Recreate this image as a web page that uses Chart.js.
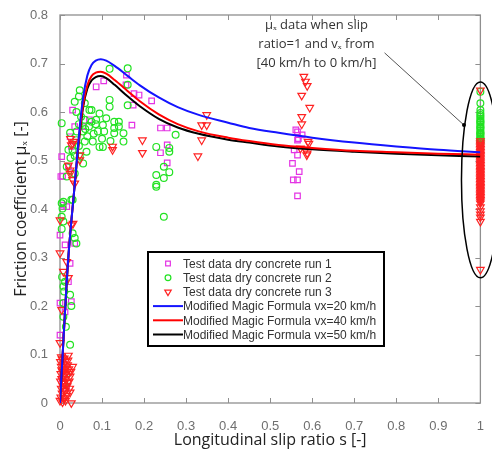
<!DOCTYPE html>
<html>
<head>
<meta charset="utf-8">
<script src="https://cdn.jsdelivr.net/npm/chart.js@4"></script>
<style>
html, body { margin: 0; padding: 0; background: #fff; }
</style>
</head>
<body>
<canvas id="chart" width="492" height="453"></canvas>
<script>
// test data, [slip ratio s, friction coefficient mu]
const run1 = [
  [0.004,0.508],[0.002,0.467],[0.024,0.549],[0.027,0.529],[0.016,0.405],[0.020,0.487],[0.035,0.570],
  [0.030,0.604],[0.055,0.570],[0.070,0.584],[0.006,0.468],[0.008,0.408],[0.000,0.346],[0.035,0.329],
  [0.012,0.326],[0.000,0.206],[0.000,0.140],[0.020,0.250],[0.012,0.188],[0.024,0.288],[0.027,0.209],
  [0.010,0.080],[0.005,0.050],[0.015,0.030],[0.086,0.652],[0.104,0.664],[0.158,0.676],[0.157,0.656],
  [0.176,0.638],[0.174,0.614],[0.171,0.573],[0.188,0.635],[0.218,0.623],[0.239,0.567],[0.255,0.567],
  [0.255,0.532],[0.239,0.516],[0.255,0.495],[0.561,0.563],[0.565,0.559],[0.576,0.553],[0.567,0.545],
  [0.565,0.542],[0.557,0.522],[0.565,0.511],[0.553,0.494],[0.569,0.477],[0.555,0.460],[0.565,0.460],
  [0.565,0.427]
];
const run2 = [
  [0.004,0.577],[0.024,0.557],[0.047,0.645],[0.045,0.632],[0.035,0.621],[0.039,0.600],[0.059,0.618],
  [0.075,0.604],[0.094,0.597],[0.118,0.625],[0.118,0.611],[0.129,0.580],[0.129,0.567],[0.129,0.556],
  [0.151,0.556],[0.151,0.539],[0.118,0.689],[0.161,0.690],[0.161,0.656],[0.161,0.614],[0.094,0.528],
  [0.102,0.528],[0.078,0.539],[0.059,0.539],[0.063,0.518],[0.055,0.560],[0.069,0.570],[0.086,0.584],
  [0.102,0.573],[0.110,0.587],[0.020,0.522],[0.016,0.487],[0.016,0.467],[0.027,0.419],[0.004,0.412],
  [0.004,0.384],[0.035,0.473],[0.055,0.494],[0.039,0.542],[0.047,0.508],[0.070,0.604],[0.059,0.584],
  [0.050,0.590],[0.065,0.550],[0.080,0.555],[0.085,0.575],[0.090,0.560],[0.100,0.545],[0.105,0.560],
  [0.040,0.560],[0.045,0.575],[0.030,0.520],[0.025,0.505],[0.035,0.510],[0.045,0.530],[0.060,0.565],
  [0.075,0.580],[0.120,0.540],[0.140,0.580],[0.140,0.570],[0.008,0.415],[0.030,0.419],[0.006,0.401],
  [0.004,0.359],[0.008,0.374],[0.035,0.340],[0.039,0.329],[0.030,0.350],[0.024,0.223],[0.027,0.200],
  [0.008,0.206],[0.008,0.178],[0.024,0.120],[0.008,0.240],[0.014,0.157],[0.010,0.230],[0.012,0.250],
  [0.005,0.260],[0.015,0.060],[0.010,0.040],[0.275,0.553],[0.229,0.528],[0.260,0.526],[0.260,0.518],
  [0.247,0.487],[0.260,0.476],[0.247,0.464],[0.229,0.470],[0.229,0.450],[0.229,0.446],[0.247,0.384]
];
const run3 = [
  [0.000,0.005],[0.002,0.012],[0.005,0.020],[0.008,0.010],[0.012,0.025],[0.003,0.030],[0.007,0.035],
  [0.010,0.040],[0.001,0.045],[0.004,0.050],[0.009,0.055],[0.014,0.050],[0.002,0.060],[0.006,0.065],
  [0.011,0.070],[0.015,0.062],[0.003,0.075],[0.008,0.080],[0.013,0.085],[0.005,0.090],[0.010,0.092],
  [0.018,0.078],[0.020,0.060],[0.022,0.045],[0.017,0.035],[0.024,0.022],[0.016,0.015],[0.013,0.005],
  [0.006,0.002],[0.019,0.088],[0.001,0.085],[0.007,0.045],[0.012,0.058],[0.004,0.068],[0.009,0.028],
  [0.015,0.072],[0.021,0.070],[0.023,0.030],[0.011,0.010],[0.003,0.095],[0.024,0.055],[0.018,0.042],
  [0.026,0.065],[0.020,0.098],[0.027,0.000],[0.030,0.075],[0.004,0.192],[0.000,0.124],[0.000,0.309],
  [0.008,0.271],[0.020,0.258],[0.016,0.291],[0.000,0.377],[0.027,0.367],[0.024,0.480],[0.035,0.453],
  [0.030,0.460],[0.047,0.511],[0.047,0.501],[0.030,0.535],[0.031,0.370],[0.024,0.473],[0.033,0.539],
  [0.027,0.532],[0.020,0.490],[0.025,0.545],[0.125,0.529],[0.125,0.522],[0.196,0.542],[0.196,0.516],
  [0.349,0.594],[0.337,0.573],[0.349,0.573],[0.337,0.542],[0.328,0.509],[0.580,0.673],[0.584,0.663],
  [0.588,0.654],[0.575,0.634],[0.594,0.609],[0.575,0.590],[0.575,0.575],[0.590,0.539],[0.584,0.522],
  [0.587,0.511],[0.572,0.525],[0.592,0.535],[0.588,0.515]
];
// values measured at s = 1 (vx from 40 km/h to 0 km/h)
const run2AtLock = [0.642,0.618,0.604,0.598,0.594,0.590,0.586,0.582,0.580,0.578,0.574,0.570,0.568,0.566,
  0.562,0.558,0.556,0.555,0.552,0.549,0.546,0.545,0.543,0.540,0.537];
const run3AtLock = [0.645,0.540,0.536,0.533,0.530,0.527,0.524,0.521,0.518,0.515,0.512,0.509,0.506,0.503,
  0.500,0.497,0.494,0.491,0.488,0.485,0.482,0.479,0.476,0.473,0.470,0.467,0.464,0.461,0.458,0.455,
  0.452,0.449,0.446,0.443,0.440,0.437,0.434,0.431,0.428,0.425,0.422,0.419,0.416,0.412,0.404,0.396,
  0.389,0.383,0.374,0.275];

// modified magic formula curves
const curveS  = [0, 0.006, 0.019, 0.035, 0.047, 0.055, 0.065, 0.075, 0.085, 0.097, 0.11, 0.13, 0.16,
  0.19, 0.235, 0.28, 0.33, 0.4, 0.45, 0.52, 0.6, 0.7, 0.8, 0.9, 1.0];
const curve20 = [0, 0.095, 0.29, 0.45, 0.57, 0.63, 0.675, 0.697, 0.706, 0.709, 0.706, 0.695, 0.675,
  0.655, 0.63, 0.61, 0.594, 0.578, 0.567, 0.557, 0.547, 0.537, 0.529, 0.522, 0.517];
const curve40 = [0, 0.095, 0.29, 0.45, 0.56, 0.615, 0.655, 0.674, 0.681, 0.683, 0.679, 0.666, 0.644,
  0.622, 0.595, 0.575, 0.56, 0.547, 0.54, 0.532, 0.526, 0.52, 0.517, 0.514, 0.512];
const curve50 = [0, 0.095, 0.29, 0.45, 0.555, 0.61, 0.648, 0.665, 0.672, 0.674, 0.67, 0.656, 0.633,
  0.612, 0.586, 0.568, 0.555, 0.543, 0.537, 0.529, 0.523, 0.518, 0.514, 0.511, 0.508];

const xTicks = [0, 0.1, 0.2, 0.3, 0.4, 0.5, 0.6, 0.7, 0.8, 0.9, 1];
const yTicks = [0, 0.1, 0.2, 0.3, 0.4, 0.5, 0.6, 0.7, 0.8];

const noteLines = ['\u03bc\u2093 data when slip', 'ratio=1 and v\u2093 from', '[40 km/h to 0 km/h]'];

function toPoints(pairs) {
  return pairs.map(p => ({ x: p[0], y: p[1] }));
}
function lockPoints(values) {
  return values.map(v => ({ x: 1, y: v }));
}
function curvePoints(values) {
  return curveS.map((s, i) => ({ x: s, y: values[i] }));
}

const magenta = 'rgb(228,52,228)';
const green = 'rgb(34,226,34)';
const red = 'rgb(255,34,34)';

function scatterSet(label, data, color, style, radius, rotation, order) {
  return {
    label, data, type: 'scatter',
    borderColor: color, backgroundColor: 'rgba(0,0,0,0)',
    pointStyle: style, pointRadius: radius, pointRotation: rotation,
    pointBorderWidth: 1.2, showLine: false, clip: false, order
  };
}
function lineSet(label, values, color) {
  return {
    label, data: curvePoints(values), type: 'line',
    borderColor: color, backgroundColor: color, borderWidth: 2,
    pointRadius: 0, cubicInterpolationMode: 'monotone', order: 0
  };
}

const datasets = [
  scatterSet('Test data dry concrete run 1', toPoints(run1), magenta, 'rect', 3.9, 0, 3),
  scatterSet('Test data dry concrete run 2', toPoints(run2).concat(lockPoints(run2AtLock)), green, 'circle', 3.4, 0, 2),
  scatterSet('Test data dry concrete run 3', toPoints(run3).concat(lockPoints(run3AtLock)), red, 'triangle', 4.4, 180, 1),
  lineSet('Modified Magic Formula vx=20 km/h', curve20, 'rgb(20,20,255)'),
  lineSet('Modified Magic Formula vx=40 km/h', curve40, 'rgb(255,0,0)'),
  lineSet('Modified Magic Formula vx=50 km/h', curve50, 'rgb(0,0,0)')
];

const frame = {
  id: 'frame',
  beforeDatasetsDraw(chart) {
    const { ctx, chartArea: { left, right, top, bottom }, scales: { x, y } } = chart;
    ctx.save();
    ctx.strokeStyle = '#8f8f8f';
    ctx.lineWidth = 1.3;
    ctx.strokeRect(left, top, right - left, bottom - top);
    ctx.lineWidth = 1;
    ctx.beginPath();
    xTicks.forEach(v => {
      const px = Math.round(x.getPixelForValue(v)) + 0.5;
      ctx.moveTo(px, bottom); ctx.lineTo(px, bottom - 5);
      ctx.moveTo(px, top); ctx.lineTo(px, top + 5);
    });
    yTicks.forEach(v => {
      const py = Math.round(y.getPixelForValue(v)) + 0.5;
      ctx.moveTo(left, py); ctx.lineTo(left + 5, py);
      ctx.moveTo(right, py); ctx.lineTo(right - 5, py);
    });
    ctx.stroke();
    ctx.restore();
  }
};

const notes = {
  id: 'notes',
  afterDraw(chart) {
    const { ctx, scales: { x, y } } = chart;
    ctx.save();
    // ellipse round the s = 1 data
    const cx = x.getPixelForValue(1);
    const cy = y.getPixelForValue(0.46);
    const rx = cx - x.getPixelForValue(0.955);
    const ry = y.getPixelForValue(0.258) - cy;
    ctx.strokeStyle = '#000';
    ctx.lineWidth = 1.5;
    ctx.beginPath();
    ctx.ellipse(cx, cy, rx, ry, 0, 0, Math.PI * 2);
    ctx.stroke();
    // pointer line
    const x1 = x.getPixelForValue(0.772), y1 = y.getPixelForValue(0.722);
    const x2 = x.getPixelForValue(0.961), y2 = y.getPixelForValue(0.573);
    ctx.strokeStyle = '#555';
    ctx.lineWidth = 1;
    ctx.beginPath();
    ctx.moveTo(x1, y1); ctx.lineTo(x2, y2);
    ctx.stroke();
    ctx.fillStyle = '#000';
    ctx.beginPath();
    ctx.arc(x2, y2, 2, 0, Math.PI * 2);
    ctx.fill();
    // note text
    ctx.fillStyle = '#333';
    ctx.font = '13px "Open Sans"';
    ctx.textAlign = 'center';
    ctx.textBaseline = 'middle';
    const tx = x.getPixelForValue(0.61);
    noteLines.forEach((line, i) => {
      ctx.fillText(line, tx, y.getPixelForValue(0.778 - i * 0.039));
    });

    // legend box
    const bx = 148, by = 252, bw = 236, bh = 94;
    ctx.fillStyle = '#fff';
    ctx.fillRect(bx, by, bw, bh);
    ctx.strokeStyle = '#000';
    ctx.lineWidth = 2;
    ctx.strokeRect(bx, by, bw, bh);
    ctx.font = '12px "Liberation Sans"';
    ctx.textAlign = 'left';
    chart.data.datasets.forEach((ds, i) => {
      const rowY = by + 11.5 + i * 14.2;
      ctx.strokeStyle = ds.borderColor;
      if (ds.type === 'scatter') {
        ctx.lineWidth = 1.2;
        ctx.fillStyle = 'rgba(0,0,0,0)';
        Chart.helpers.drawPoint(ctx, {
          pointStyle: ds.pointStyle, radius: ds.pointRadius * 0.85,
          rotation: ds.pointRotation, borderWidth: 1.2
        }, bx + 20, rowY);
      } else {
        ctx.lineWidth = 2;
        ctx.beginPath();
        ctx.moveTo(bx + 5, rowY); ctx.lineTo(bx + 35, rowY);
        ctx.stroke();
      }
      ctx.fillStyle = '#333';
      ctx.fillText(ds.label, bx + 35, rowY + 1);
    });
    ctx.restore();
  }
};

new Chart(document.getElementById('chart'), {
  type: 'scatter',
  data: { datasets },
  options: {
    responsive: false,
    animation: false,
    layout: { padding: { top: 15, right: 6, left: 0, bottom: 0 } },
    plugins: { legend: { display: false }, tooltip: { enabled: false } },
    scales: {
      x: {
        type: 'linear', min: 0, max: 1,
        afterBuildTicks: s => { s.ticks = xTicks.map(v => ({ value: v })); },
        afterFit: s => { s.height = 50; },
        grid: { display: false },
        border: { display: false },
        ticks: { color: '#6f6f6f', font: { family: 'Liberation Sans', size: 13 }, padding: 8,
          callback: v => String(Math.round(v * 10) / 10) },
        title: { display: true, text: 'Longitudinal slip ratio s [-]', color: '#222',
          font: { family: 'Open Sans', size: 16 }, padding: { top: 0, bottom: 3 } }
      },
      y: {
        type: 'linear', min: 0, max: 0.8,
        afterBuildTicks: s => { s.ticks = yTicks.map(v => ({ value: v })); },
        afterFit: s => { s.width = 60; },
        grid: { display: false },
        border: { display: false },
        ticks: { color: '#6f6f6f', font: { family: 'Liberation Sans', size: 13 }, padding: 4,
          callback: v => String(Math.round(v * 10) / 10) },
        title: { display: true, text: 'Friction coefficient \u03bc\u2093 [-]', color: '#222',
          font: { family: 'Open Sans', size: 16 }, padding: { top: 12, bottom: 0 } }
      }
    }
  },
  plugins: [frame, notes]
});
</script>
</body>
</html>
